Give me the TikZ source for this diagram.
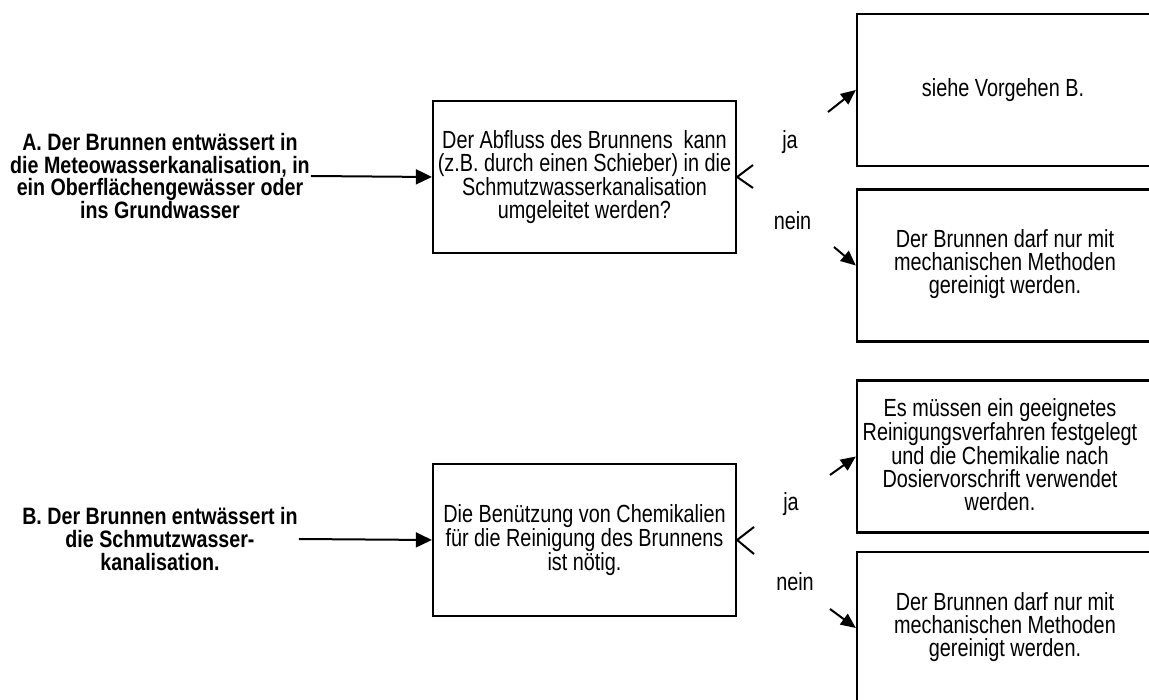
\documentclass[tikz,border=0pt]{standalone}
\usepackage{fontspec}
\setmainfont{Liberation Sans}[FakeStretch=0.80]
\newfontfamily\sidefont{Liberation Sans}[FakeStretch=0.83]
\usetikzlibrary{arrows.meta}
\begin{document}
\begin{tikzpicture}[x=1pt,y=-1pt,
  box/.style={draw, line width=2.3pt, minimum width=303pt, minimum height=152pt, inner sep=0pt},
  txt/.style={align=center, font=\fontsize{24.8}{23}\selectfont, inner sep=0pt},
  side/.style={align=center, font=\sidefont\fontsize{23.7}{22.7}\selectfont\bfseries, inner sep=1pt},
  lab/.style={font=\fontsize{24.8}{23}\selectfont, inner sep=0pt, anchor=base},
  conn/.style={line width=2pt, -{Triangle[length=16pt,width=15pt]}},
  shortconn/.style={line width=2pt, -{Triangle[length=15pt,width=13pt]}},
  back/.style={line width=2pt},
]
\useasboundingbox (0,0) rectangle (1149,700);
\clip (0,0) rectangle (1149,700);

% left texts
\node[side] (A) at (160,176) {A. Der Brunnen entwässert in\\die Meteowasserkanalisation, in\\ein Oberflächengewässer oder\\ins Grundwasser};
\node[side] (B) at (160,539) {B. Der Brunnen entwässert in\\die Schmutzwasser-\\kanalisation.};

% decision boxes
\node[box,txt] (d1) at (584.5,177) {Der Abfluss des Brunnens\ \ kann\\(z.B. durch einen Schieber) in die\\Schmutzwasserkanalisation\\umgeleitet werden?};
\node[box,txt] (d2) at (584.5,540) {Die Benützung von Chemikalien\\für die Reinigung des Brunnens\\ist nötig.};

% result boxes (extend past the right edge)
\node[box] (r1) at (1008.5,90) {};
\node[box] (r2) at (1008.5,265.5) {};
\node[box] (r3) at (1008.5,456.5) {};
\node[box] (r4) at (1008.5,628) {};
\node[txt] (t1) at (1003,90) {siehe Vorgehen B.};
\node[txt] (t2) at (1005,264) {Der Brunnen darf nur mit\\mechanischen Methoden\\gereinigt werden.};
\node[txt] (t3) at (1000,455) {Es müssen ein geeignetes\\Reinigungsverfahren festgelegt\\und die Chemikalie nach\\Dosiervorschrift verwendet\\werden.};
\node[txt] (t4) at (1005,627) {Der Brunnen darf nur mit\\mechanischen Methoden\\gereinigt werden.};

% labels
\node[lab] (ja1) at (790,149) {ja};
\node[lab] (ne1) at (792.5,230) {nein};
\node[lab] (ja2) at (791,510) {ja};
\node[lab] (ne2) at (795,590) {nein};

% connectors
\draw[conn] (A.east) -- (d1.west);
\draw[conn] (B.east) -- (d2.west);

\coordinate (s1) at (828,112);
\coordinate (s2) at (834,247);
\coordinate (s3) at (830,475);
\coordinate (s4) at (830,609);
\draw[shortconn] (s1) -- (r1.west);
\draw[shortconn] (s2) -- (r2.west);
\draw[shortconn] (s3) -- (r3.west);
\draw[shortconn] (s4) -- (r4.west);

\coordinate (b1a) at (753,165);
\coordinate (b1b) at (753,188);
\coordinate (b2a) at (754,527);
\coordinate (b2b) at (754,554);
\draw[back] (b1a) -- (d1.east) -- (b1b);
\draw[back] (b2a) -- (d2.east) -- (b2b);
\end{tikzpicture}
\end{document}
